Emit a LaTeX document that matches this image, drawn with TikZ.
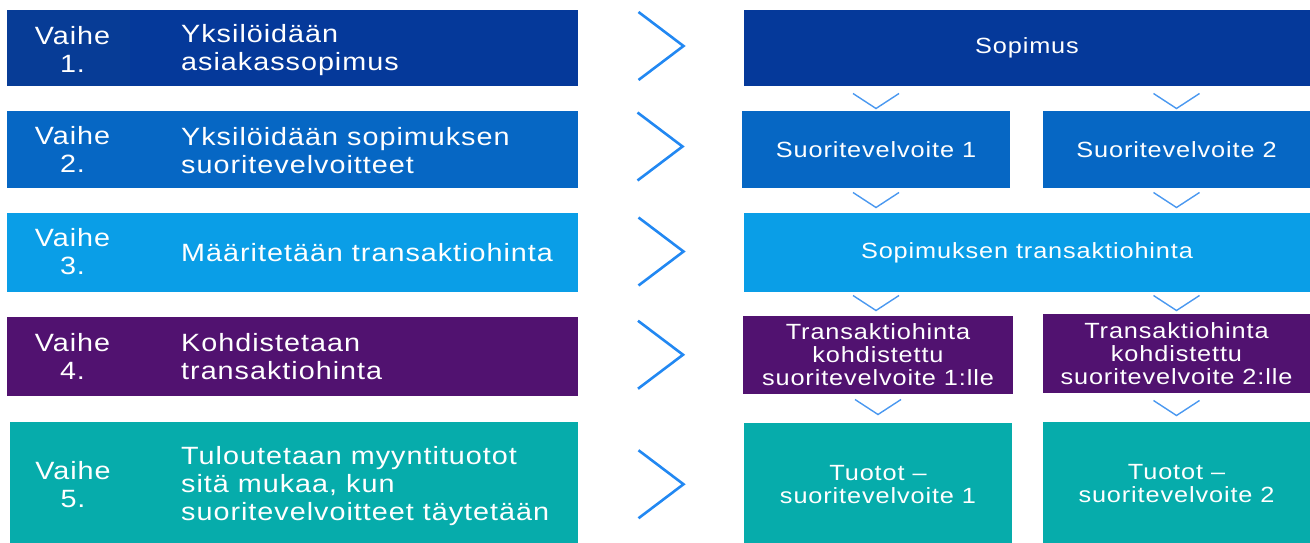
\documentclass[tikz,border=0pt]{standalone}
\usepackage{fontspec}
\setmainfont{Liberation Sans}[FakeStretch=1.15, LetterSpace=4]
\usetikzlibrary{calc}

\definecolor{stepA}{HTML}{05399A}
\definecolor{stepAv}{HTML}{073C96}
\definecolor{stepB}{HTML}{0667C4}
\definecolor{stepC}{HTML}{0A9EE7}
\definecolor{stepD}{HTML}{511270}
\definecolor{stepE}{HTML}{06ACAB}
\definecolor{chev}{HTML}{2288F2}
\definecolor{chevlight}{HTML}{4A98F0}

\tikzset{
  cell/.style={fill=#1, draw=none, inner sep=0, outer sep=0, anchor=north west},
  phase/.style={text=white, inner sep=0, align=center,
                font=\fontsize{25}{28}\selectfont},
  ltext/.style={text=white, inner sep=0, align=left, anchor=west,
                font=\fontsize{25}{28}\selectfont},
  rtext/.style={text=white, inner sep=0, align=center,
                font=\fontsize{22}{23}\selectfont},
  bigchev/.style={draw=chev, line width=2.6},
  smallchev/.style={draw=chevlight, line width=1.4},
  pics/rchev/.style={code={\draw[bigchev] (-22.5,-34) -- (22.5,0) -- (-22.5,34);}},
  pics/dchev/.style={code={\draw[smallchev] (-23,-7.5) -- (0,7.5) -- (23,-7.5);}}
}

\begin{document}
\begin{tikzpicture}[x=1pt,y=-1pt]
\useasboundingbox (0,0) rectangle (1310,543);

% ---- left column: the five steps ----
\node[cell=stepAv, minimum width=123, minimum height=76] (v1) at (7,10) {};
\node[cell=stepA,  minimum width=448, minimum height=76] (c1) at (130,10) {};
\node[cell=stepB,  minimum width=123, minimum height=77] (v2) at (7,111) {};
\node[cell=stepB,  minimum width=448, minimum height=77] (c2) at (130,111) {};
\node[cell=stepC,  minimum width=123, minimum height=79] (v3) at (7,213) {};
\node[cell=stepC,  minimum width=448, minimum height=79] (c3) at (130,213) {};
\node[cell=stepD,  minimum width=123, minimum height=79] (v4) at (7,317) {};
\node[cell=stepD,  minimum width=448, minimum height=79] (c4) at (130,317) {};
\node[cell=stepE,  minimum width=122, minimum height=122] (v5) at (10,422) {};
\node[cell=stepE,  minimum width=446, minimum height=122] (c5) at (132,422) {};

\node[phase] (p1) at ($(v1.center)+(4,1)$) {Vaihe\\1.};
\node[phase] (p2) at ($(v2.center)+(4,0)$) {Vaihe\\2.};
\node[phase] (p3) at ($(v3.center)+(4,-1)$) {Vaihe\\3.};
\node[phase] (p4) at ($(v4.center)+(4,0)$) {Vaihe\\4.};
\node[phase] (p5) at ($(v5.center)+(2,2)$) {Vaihe\\5.};

\node[ltext] (d1) at ($(c1.west)+(51,2)$) {Yksilöidään\\asiakassopimus};
\node[ltext] (d2) at ($(c2.west)+(51,1)$) {Yksilöidään sopimuksen\\suoritevelvoitteet};
\node[ltext] (d3) at ($(c3.west)+(51,0)$) {Määritetään transaktiohinta};
\node[ltext] (d4) at ($(c4.west)+(51,0)$) {Kohdistetaan\\transaktiohinta};
\node[ltext] (d5) at ($(c5.west)+(49,3)$) {Tuloutetaan myyntituotot\\sitä mukaa, kun\\suoritevelvoitteet täytetään};

% ---- right column: what each step produces ----
\node[cell=stepA, minimum width=566, minimum height=76] (r1) at (744,10) {};
\node[cell=stepB, minimum width=268, minimum height=77] (s1) at (742,111) {};
\node[cell=stepB, minimum width=267, minimum height=77] (s2) at (1043,111) {};
\node[cell=stepC, minimum width=566, minimum height=79] (r3) at (744,213) {};
\node[cell=stepD, minimum width=270, minimum height=78] (t1) at (743,316) {};
\node[cell=stepD, minimum width=267, minimum height=79] (t2) at (1043,314) {};
\node[cell=stepE, minimum width=268, minimum height=121] (u1) at (744,423) {};
\node[cell=stepE, minimum width=267, minimum height=122] (u2) at (1043,422) {};

\node[rtext] at (r1.center) {Sopimus};
\node[rtext] at (s1.center) {Suoritevelvoite 1};
\node[rtext] at (s2.center) {Suoritevelvoite 2};
\node[rtext] at (r3.center) {Sopimuksen transaktiohinta};
\node[rtext] at (t1.center) {Transaktiohinta\\kohdistettu\\suoritevelvoite 1:lle};
\node[rtext] at (t2.center) {Transaktiohinta\\kohdistettu\\suoritevelvoite 2:lle};
\node[rtext] at ($(u1.center)+(0,1)$) {Tuotot –\\suoritevelvoite 1};
\node[rtext] at ($(u2.center)+(0,1)$) {Tuotot –\\suoritevelvoite 2};

% ---- chevrons from each step to its result ----
\pic at ($(c1.east)!0.5!(r1.west)+(0,-2)$) {rchev};
\pic at ($(c2.east)!0.5!(s1.west)+(0,-3)$) {rchev};
\pic at ($(c3.east)!0.5!(r3.west)+(0,-1)$) {rchev};
\pic at ($(c4.east)!0.5!(t1.west)+(0,-1)$) {rchev};
\pic at ($(c5.east)!0.5!(u1.west)+(0,1)$) {rchev};

% ---- chevrons down the right column ----
\pic at ($(s1.north)+(0,-10)$) {dchev};
\pic at ($(s2.north)+(0,-10)$) {dchev};
\pic at ($(s1.south)+(0,12)$) {dchev};
\pic at ($(s2.south)+(0,12)$) {dchev};
\pic at ($(r3.south -| s1.south)+(0,11)$) {dchev};
\pic at ($(r3.south -| s2.south)+(0,11)$) {dchev};
\pic at ($(t1.south)+(0,13)$) {dchev};
\pic at ($(t2.south)+(0,15)$) {dchev};
\end{tikzpicture}
\end{document}
